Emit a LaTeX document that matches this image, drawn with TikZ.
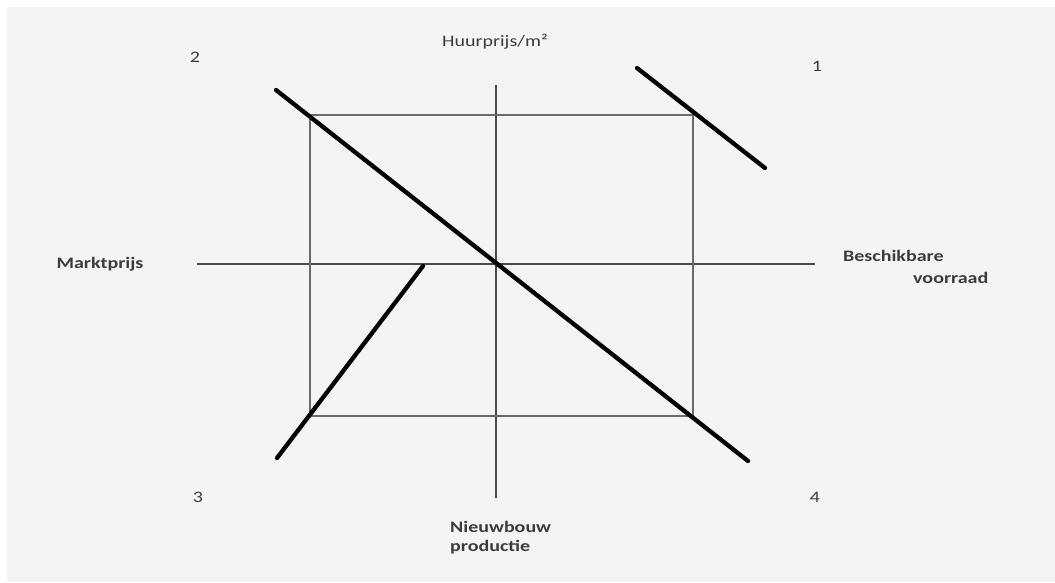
\documentclass[tikz,border=0pt]{standalone}
\usepackage{fontspec}
\setmainfont{Carlito}
\usepackage{graphicx}
\definecolor{bg}{HTML}{F4F4F4}
\definecolor{thin}{HTML}{6A6A6A}
\definecolor{axis}{HTML}{4A4A4A}
\definecolor{txt}{HTML}{3C3C3C}
\newcommand{\wide}[1]{\scalebox{1.25}[1]{#1}}
\tikzset{
  lbl/.style={inner sep=0pt, text=txt, font=\fontsize{16}{19}\selectfont\bfseries},
  ttl/.style={inner sep=0pt, text=txt, font=\fontsize{16}{19}\selectfont},
  num/.style={inner sep=0pt, text=txt, font=\fontsize{16}{18}\selectfont},
  thinline/.style={draw=thin, line width=1.8pt},
  axisline/.style={draw=axis, line width=1.5pt},
  curve/.style={draw=black, line width=4.3pt, line cap=round}
}
\begin{document}
\begin{tikzpicture}[x=1pt,y=-1pt]
\useasboundingbox (0,0) rectangle (1055,582);
\fill[white] (0,0) rectangle (1055,582);
\fill[bg] (7,7) rectangle (1055,582);
% axes
\coordinate (vt) at (496,85);
\coordinate (vb) at (496,498);
\coordinate (hl) at (197,264);
\coordinate (hr) at (815,264);
\draw[axisline] (hl) -- (hr);
\draw[axisline] (vt) -- (vb);
% rectangle
\coordinate (r1) at (310,115);
\coordinate (r2) at (693,416);
\draw[thinline] (r1) rectangle (r2);
% thick lines
\coordinate (a1) at (276,90);
\coordinate (a2) at (748,461);
\coordinate (b1) at (637,68);
\coordinate (b2) at (765,168);
\coordinate (c1) at (423,266);
\coordinate (c2) at (277,458);
\draw[curve] (a1) -- (a2);
\draw[curve] (b1) -- (b2);
\draw[curve] (c1) -- (c2);
% labels
\node[ttl] (huur) at (495,42) {\wide{Huurprijs/m²}};
\node[lbl] (markt) at (100,264) {\wide{Marktprijs}};
\node[lbl, anchor=west] (besch) at (843,256) {\wide{Beschikbare}};
\node[lbl, anchor=west] (voor) at (913,278) {\wide{voorraad}};
\node[lbl, anchor=west] (nieuw) at (450,527) {\wide{Nieuwbouw}};
\node[lbl, anchor=west] (prod) at (450,547) {\wide{productie}};
\node[num] (n2) at (195,57) {\wide{2}};
\node[num] (n1) at (817,66) {\wide{1}};
\node[num] (n3) at (198,497) {\wide{3}};
\node[num] (n4) at (815,497) {\wide{4}};
\end{tikzpicture}
\end{document}
